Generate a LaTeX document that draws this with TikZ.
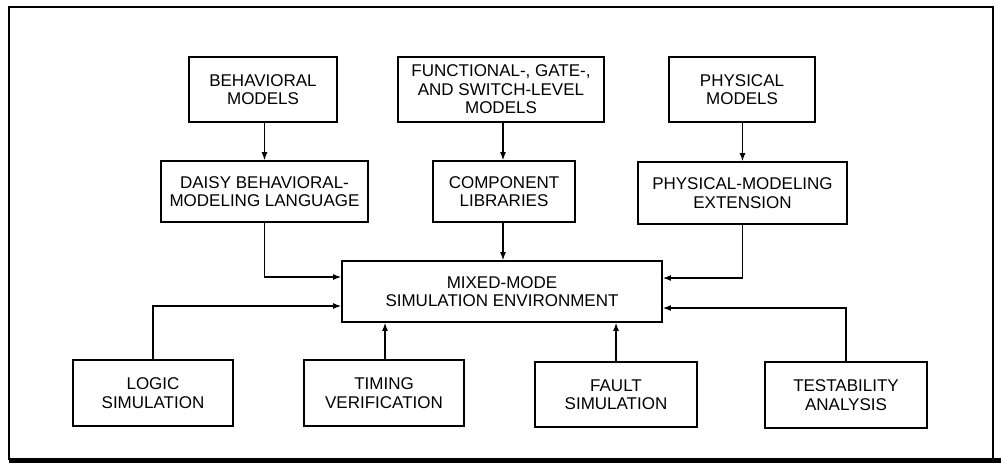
\documentclass[tikz,border=0pt]{standalone}
\usepackage{fontspec}
\setmainfont{Liberation Sans}
\usetikzlibrary{arrows.meta}
\begin{document}
\begin{tikzpicture}[x=1pt,y=-1pt,
  blk/.style={draw, line width=1.8pt, inner sep=0pt, align=center,
    font=\fontsize{17}{18.5}\selectfont, text depth=0pt},
  conn/.style={line width=1.2pt, -{Latex[length=8pt,width=6pt]}},
  frame/.style={line width=1.3pt}]
\useasboundingbox (0,0) rectangle (1001,464);
% frame
\draw[frame] (9,460) -- (9,7) -- (993,7) -- (993,460);
\draw[line width=5pt] (9,460) -- (1001,460);
% top row
\node[blk, minimum width=148pt, minimum height=65pt] (beh) at (263,89.5) {BEHAVIORAL\\MODELS};
\node[blk, minimum width=206pt, minimum height=65pt] (func) at (501,89.5) {FUNCTIONAL-, GATE-,\\AND SWITCH-LEVEL\\MODELS};
\node[blk, minimum width=146pt, minimum height=65pt] (phys) at (742,89.5) {PHYSICAL\\MODELS};
% second row
\node[blk, minimum width=207pt, minimum height=61pt] (daisy) at (264.5,191.5) {DAISY BEHAVIORAL-\\MODELING LANGUAGE};
\node[blk, minimum width=142pt, minimum height=61pt] (comp) at (504,191.5) {COMPONENT\\LIBRARIES};
\node[blk, minimum width=209pt, minimum height=62pt] (pme) at (742.5,193) {PHYSICAL-MODELING\\EXTENSION};
% centre
\node[blk, minimum width=320pt, minimum height=61pt] (mixed) at (502,291.5) {MIXED-MODE\\SIMULATION ENVIRONMENT};
% bottom row
\node[blk, minimum width=160pt, minimum height=66pt] (logic) at (153,393) {LOGIC\\SIMULATION};
\node[blk, minimum width=160pt, minimum height=66pt] (timing) at (384,393) {TIMING\\VERIFICATION};
\node[blk, minimum width=162pt, minimum height=65pt] (fault) at (616,394.5) {FAULT\\SIMULATION};
\node[blk, minimum width=162pt, minimum height=66pt] (test) at (846,395) {TESTABILITY\\ANALYSIS};
% connectors
\draw[conn] (beh.south -| daisy.north) -- (daisy.north);
\coordinate (fc) at (503,0);
\draw[conn] (func.south -| fc) -- (comp.north -| fc);
\draw[conn] (comp.south -| fc) -- (mixed.north -| fc);
\draw[conn] (phys.south -| pme.north) -- (pme.north);
\draw[conn] (daisy.south) |- ([yshift=14.5pt]mixed.west);
\draw[conn] (logic.north) |- ([yshift=-14.5pt]mixed.west);
\draw[conn] (pme.south) |- ([yshift=13.5pt]mixed.east);
\draw[conn] (test.north) |- ([yshift=-16.5pt]mixed.east);
\draw[conn] (timing.north -| 385,0) -- (mixed.south -| 385,0);
\draw[conn] (fault.north) -- (mixed.south -| fault.north);
\end{tikzpicture}
\end{document}
